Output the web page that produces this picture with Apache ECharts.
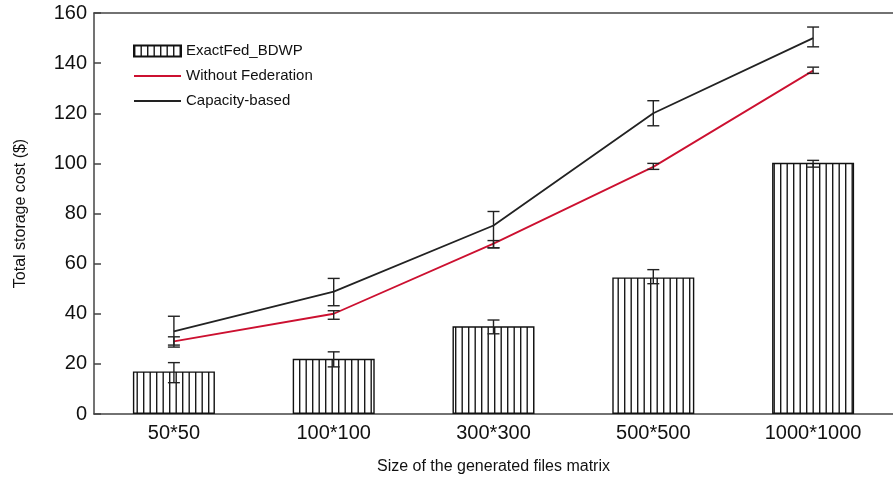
<!DOCTYPE html>
<html lang="en">
<head>
    <meta charset="utf-8">
    <title>Total storage cost</title>
    <script src="https://cdn.jsdelivr.net/npm/echarts@6/dist/echarts.min.js"></script>
</head>
<body style="margin:0">
    <div id="main" style="width:893px;height:485px;"></div>

    <script type="text/javascript">

    // data
    var categories = ['50*50', '100*100', '300*300', '500*500', '1000*1000'];
    var yTicks = [0, 20, 40, 60, 80, 100, 120, 140, 160];

    var exactFed = [17, 22, 35, 54.5, 100.2];
    var exactFedLow = [12.5, 18.8, 32, 52, 98.5];
    var exactFedHigh = [20.5, 24.8, 37.5, 57.6, 101.2];

    var withoutFed = [29, 40, 68, 98.6, 137];
    var withoutFedLow = [26.7, 37.8, 66.3, 97.6, 135.9];
    var withoutFedHigh = [30.8, 41.2, 69.2, 100, 138.4];

    var capacity = [33, 48.8, 75.2, 120, 150];
    var capacityLow = [27.5, 43.2, 66.3, 115, 146.5];
    var capacityHigh = [39, 54.1, 80.8, 125, 154.4];

    // vertical stripe fill for the bars (period ~6.5px)
    var stripe = document.createElement('canvas');
    stripe.width = 13;
    stripe.height = 4;
    var sctx = stripe.getContext('2d');
    sctx.fillStyle = '#fff';
    sctx.fillRect(0, 0, 13, 4);
    sctx.fillStyle = '#1a1a1a';
    sctx.fillRect(0, 0, 1.4, 4);
    sctx.fillRect(6.5, 0, 1.4, 4);

    function errData(low, high) {
        return low.map(function (v, i) { return [i, v, high[i]]; });
    }

    function errorBar(params, api) {
        var lo = api.coord([api.value(0), api.value(1)]);
        var hi = api.coord([api.value(0), api.value(2)]);
        var w = 6;
        var st = { stroke: '#222', lineWidth: 1.4 };
        return {
            type: 'group',
            children: [
                { type: 'line', shape: { x1: hi[0], y1: hi[1], x2: lo[0], y2: lo[1] }, style: st },
                { type: 'line', shape: { x1: hi[0] - w, y1: hi[1], x2: hi[0] + w, y2: hi[1] }, style: st },
                { type: 'line', shape: { x1: lo[0] - w, y1: lo[1], x2: lo[0] + w, y2: lo[1] }, style: st }
            ]
        };
    }

    var myChart = echarts.init(document.getElementById('main'));

    myChart.setOption({
        animation: false,
        textStyle: { fontFamily: 'Liberation Sans' },
        grid: { left: 94, right: 0, top: 13, bottom: 71 },
        legend: {
            data: [
                { name: 'ExactFed_BDWP', icon: 'rect' },
                { name: 'Without Federation', itemStyle: { opacity: 0 } },
                { name: 'Capacity-based', itemStyle: { opacity: 0 } }
            ],
            orient: 'vertical',
            left: 128,
            top: 38,
            itemWidth: 47,
            itemHeight: 11,
            itemGap: 9,
            textStyle: { fontSize: 15, color: '#111', lineHeight: 16 }
        },
        xAxis: [{
            type: 'category',
            data: categories,
            axisLine: { lineStyle: { color: '#444', width: 1.5 } },
            axisTick: { show: false },
            axisLabel: { fontSize: 20, color: '#111', margin: 9 },
            name: 'Size of the generated files matrix',
            nameLocation: 'middle',
            nameGap: 45,
            nameTextStyle: { fontSize: 16, color: '#111' }
        }, {
            type: 'category',
            data: categories,
            position: 'top',
            axisLine: { lineStyle: { color: '#444', width: 1.5 } },
            axisTick: { show: false },
            axisLabel: { show: false }
        }],
        yAxis: {
            type: 'value',
            min: yTicks[0],
            max: yTicks[yTicks.length - 1],
            interval: 20,
            axisLine: { show: true, lineStyle: { color: '#444', width: 1.5 } },
            axisTick: { show: true, inside: true, length: 7, lineStyle: { color: '#444', width: 1.5 } },
            splitLine: { show: false },
            axisLabel: { fontSize: 20, color: '#111', margin: 7 },
            name: 'Total storage cost ($)',
            nameLocation: 'middle',
            nameGap: 65,
            nameTextStyle: { fontSize: 16, color: '#111' }
        },
        series: [{
            name: 'ExactFed_BDWP',
            type: 'bar',
            data: exactFed,
            barWidth: 82,
            itemStyle: {
                color: { image: stripe, repeat: 'repeat' },
                borderColor: '#111',
                borderWidth: 1.4
            }
        }, {
            name: 'Without Federation',
            type: 'line',
            data: withoutFed,
            symbol: 'none',
            z: 3,
            itemStyle: { color: '#cc1030' },
            lineStyle: { color: '#cc1030', width: 1.8 }
        }, {
            name: 'Capacity-based',
            type: 'line',
            data: capacity,
            symbol: 'none',
            z: 3,
            itemStyle: { color: '#222' },
            lineStyle: { color: '#222', width: 1.8 }
        }, {
            type: 'custom',
            renderItem: errorBar,
            data: errData(exactFedLow, exactFedHigh),
            z: 5
        }, {
            type: 'custom',
            renderItem: errorBar,
            data: errData(withoutFedLow, withoutFedHigh),
            z: 5
        }, {
            type: 'custom',
            renderItem: errorBar,
            data: errData(capacityLow, capacityHigh),
            z: 5
        }]
    });

    </script>
</body>
</html>
